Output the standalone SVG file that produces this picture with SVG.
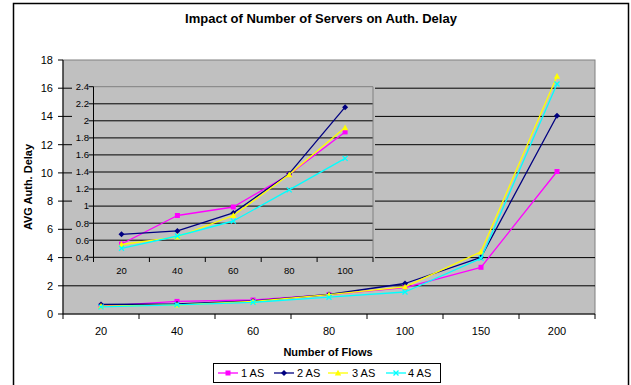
<svg xmlns="http://www.w3.org/2000/svg" width="631" height="385" viewBox="0 0 631 385">
  <style>
    text { font-family: "Liberation Sans", Arial, sans-serif; fill: #000; }
    .title { font-size: 13px; font-weight: bold; }
    .axt { font-size: 11px; font-weight: bold; }
    .lab { font-size: 11px; }
    .ilab { font-size: 9.5px; }
    .grid { stroke: #000; stroke-width: 1; }
    .axis { stroke: #000; stroke-width: 1; fill: none; }
    .s1 { stroke: #FF00FF; }
    .s2 { stroke: #000080; }
    .s3 { stroke: #FFFF00; }
    .s4 { stroke: #00FFFF; }
    .ser { fill: none; stroke-width: 1.3; stroke-linejoin: round; }
  </style>
  <defs>
    <marker id="m-sq" markerUnits="userSpaceOnUse" markerWidth="8" markerHeight="8" refX="4" refY="4" viewBox="0 0 8 8">
      <rect x="1.5" y="1.5" width="5" height="5" fill="#FF00FF"/>
    </marker>
    <marker id="m-dia" markerUnits="userSpaceOnUse" markerWidth="8" markerHeight="8" refX="4" refY="4" viewBox="0 0 8 8">
      <path d="M4 1 L7 4 L4 7 L1 4 Z" fill="#000080"/>
    </marker>
    <marker id="m-tri" markerUnits="userSpaceOnUse" markerWidth="8" markerHeight="8" refX="4" refY="4" viewBox="0 0 8 8">
      <path d="M4 0.8 L7.2 6.6 L0.8 6.6 Z" fill="#FFFF00"/>
    </marker>
    <marker id="m-x" markerUnits="userSpaceOnUse" markerWidth="8" markerHeight="8" refX="4" refY="4" viewBox="0 0 8 8">
      <path d="M1.5 1.5 L6.5 6.5 M6.5 1.5 L1.5 6.5" stroke="#00FFFF" stroke-width="1.3" fill="none"/>
    </marker>
  </defs>

  <!-- chart frame -->
  <g id="frame">
    <rect x="0" y="0" width="631" height="385" fill="#FFFFFF"/>
    <rect x="13.5" y="3.5" width="615" height="400" fill="#FFFFFF" stroke="#000" stroke-width="1.5"/>
    <text class="title" x="321" y="23" text-anchor="middle">Impact of Number of Servers on Auth. Delay</text>
  </g>

  <!-- main plot area -->
  <g id="main-plot">
    <rect x="63" y="60" width="532" height="254" fill="#C0C0C0" stroke="#808080" stroke-width="1"/>
    <g id="main-grid">
      <line class="grid" x1="63" y1="285.8" x2="595" y2="285.8"/>
      <line class="grid" x1="63" y1="257.6" x2="595" y2="257.6"/>
      <line class="grid" x1="63" y1="229.3" x2="595" y2="229.3"/>
      <line class="grid" x1="63" y1="201.1" x2="595" y2="201.1"/>
      <line class="grid" x1="63" y1="172.9" x2="595" y2="172.9"/>
      <line class="grid" x1="63" y1="144.7" x2="595" y2="144.7"/>
      <line class="grid" x1="63" y1="116.4" x2="595" y2="116.4"/>
      <line class="grid" x1="63" y1="88.2" x2="595" y2="88.2"/>
    </g>
    <g id="main-axes">
      <path class="axis" d="M63 60 V314 H595"/>
      <path class="axis" d="M58 314H63M58 285.8H63M58 257.6H63M58 229.3H63M58 201.1H63M58 172.9H63M58 144.7H63M58 116.4H63M58 88.2H63M58 60H63"/>
      <path class="axis" d="M63 314V319M139 314V319M215 314V319M291 314V319M367 314V319M443 314V319M519 314V319M595 314V319"/>
    </g>
    <g id="main-ylabels" class="lab" text-anchor="end">
      <text x="53" y="318">0</text>
      <text x="53" y="289.8">2</text>
      <text x="53" y="261.6">4</text>
      <text x="53" y="233.3">6</text>
      <text x="53" y="205.1">8</text>
      <text x="53" y="176.9">10</text>
      <text x="53" y="148.7">12</text>
      <text x="53" y="120.4">14</text>
      <text x="53" y="92.2">16</text>
      <text x="53" y="64">18</text>
    </g>
    <g id="main-xlabels" class="lab" text-anchor="middle">
      <text x="101" y="335">20</text>
      <text x="177" y="335">40</text>
      <text x="253" y="335">60</text>
      <text x="329" y="335">80</text>
      <text x="405" y="335">100</text>
      <text x="481" y="335">150</text>
      <text x="557" y="335">200</text>
    </g>
    <text class="axt" x="328" y="356" text-anchor="middle">Number of Flows</text>
    <text class="axt" transform="translate(32 187) rotate(-90)" text-anchor="middle">AVG Auth. Delay</text>
  </g>

  <!-- inset chart, zoomed on 20..100 flows -->
  <g id="inset">
    <rect x="72" y="76" width="303" height="206" fill="#C0C0C0"/>
    <g id="inset-grid">
      <line class="grid" x1="93.5" y1="240.2" x2="373" y2="240.2"/>
      <line class="grid" x1="93.5" y1="223.2" x2="373" y2="223.2"/>
      <line class="grid" x1="93.5" y1="206.1" x2="373" y2="206.1"/>
      <line class="grid" x1="93.5" y1="189.0" x2="373" y2="189.0"/>
      <line class="grid" x1="93.5" y1="172.0" x2="373" y2="172.0"/>
      <line class="grid" x1="93.5" y1="154.9" x2="373" y2="154.9"/>
      <line class="grid" x1="93.5" y1="137.9" x2="373" y2="137.9"/>
      <line class="grid" x1="93.5" y1="120.8" x2="373" y2="120.8"/>
      <line class="grid" x1="93.5" y1="103.8" x2="373" y2="103.8"/>
      <path d="M93.5 86.7 H373 V257.3" fill="none" stroke="#808080" stroke-width="1"/>
    </g>
    <g id="inset-axes">
      <path class="axis" d="M93.5 86.7 V257.3 H373"/>
      <path class="axis" d="M88.5 257.3H93.5M88.5 240.2H93.5M88.5 223.2H93.5M88.5 206.1H93.5M88.5 189H93.5M88.5 172H93.5M88.5 154.9H93.5M88.5 137.9H93.5M88.5 120.8H93.5M88.5 103.8H93.5M88.5 86.7H93.5"/>
      <path class="axis" d="M93.5 257.3V262M149.4 257.3V262M205.3 257.3V262M261.2 257.3V262M317.1 257.3V262M373 257.3V262"/>
    </g>
    <g id="inset-ylabels" class="ilab" text-anchor="end">
      <text x="89" y="260.6">0.4</text>
      <text x="89" y="243.5">0.6</text>
      <text x="89" y="226.5">0.8</text>
      <text x="89" y="209.4">1</text>
      <text x="89" y="192.3">1.2</text>
      <text x="89" y="175.3">1.4</text>
      <text x="89" y="158.2">1.6</text>
      <text x="89" y="141.2">1.8</text>
      <text x="89" y="124.1">2</text>
      <text x="89" y="107.1">2.2</text>
      <text x="89" y="90">2.4</text>
    </g>
    <g id="inset-xlabels" class="ilab" text-anchor="middle">
      <text x="121.5" y="274">20</text>
      <text x="177.4" y="274">40</text>
      <text x="233.3" y="274">60</text>
      <text x="289.2" y="274">80</text>
      <text x="345.1" y="274">100</text>
    </g>
    <g id="inset-series">
      <polyline class="ser s1" marker-start="url(#m-sq)" marker-mid="url(#m-sq)" marker-end="url(#m-sq)" points="121.5,244.0 177.4,215.5 233.3,207.0 289.2,174.6 345.1,131.9"/>
      <polyline class="ser s2" marker-start="url(#m-dia)" marker-mid="url(#m-dia)" marker-end="url(#m-dia)" points="121.5,234.3 177.4,230.9 233.3,212.9 289.2,173.7 345.1,107.2"/>
      <polyline class="ser s3" marker-start="url(#m-tri)" marker-mid="url(#m-tri)" marker-end="url(#m-tri)" points="121.5,244.5 177.4,236.8 233.3,215.5 289.2,174.6 345.1,127.6"/>
      <polyline class="ser s4" marker-start="url(#m-x)" marker-mid="url(#m-x)" marker-end="url(#m-x)" points="121.5,248.3 177.4,236.0 233.3,221.0 289.2,189.9 345.1,158.4"/>
    </g>
  </g>

  <!-- main series -->
  <g id="main-series">
    <polyline class="ser s1" marker-start="url(#m-sq)" marker-mid="url(#m-sq)" marker-end="url(#m-sq)" points="101,306.2 177,301.4 253,300.0 329,294.7 405,287.6 481,267.3 557,171.5"/>
    <polyline class="ser s2" marker-start="url(#m-dia)" marker-mid="url(#m-dia)" marker-end="url(#m-dia)" points="101,304.5 177,304.0 253,301.0 329,294.5 405,283.5 481,257.3 557,115.7"/>
    <polyline class="ser s3" marker-start="url(#m-tri)" marker-mid="url(#m-tri)" marker-end="url(#m-tri)" points="101,306.2 177,305.0 253,301.4 329,294.7 405,286.9 481,251.8 557,76.2"/>
    <polyline class="ser s4" marker-start="url(#m-x)" marker-mid="url(#m-x)" marker-end="url(#m-x)" points="101,306.9 177,304.8 253,302.3 329,297.2 405,292.0 481,258.3 557,84.0"/>
  </g>

  <!-- legend -->
  <g id="legend">
    <rect x="213.5" y="363.5" width="227" height="19" fill="#FFFFFF" stroke="#000" stroke-width="1"/>
    <g id="legend-1as">
      <line class="s1" x1="218" y1="373" x2="238" y2="373" stroke-width="1.3"/>
      <rect x="225.5" y="370.5" width="5" height="5" fill="#FF00FF"/>
      <text class="lab" x="241" y="377">1 AS</text>
    </g>
    <g id="legend-2as">
      <line class="s2" x1="274" y1="373" x2="294" y2="373" stroke-width="1.3"/>
      <path d="M284 370 L287 373 L284 376 L281 373 Z" fill="#000080"/>
      <text class="lab" x="297" y="377">2 AS</text>
    </g>
    <g id="legend-3as">
      <line class="s3" x1="328" y1="373" x2="348" y2="373" stroke-width="1.3"/>
      <path d="M338 369.8 L341.2 375.6 L334.8 375.6 Z" fill="#FFFF00"/>
      <text class="lab" x="352" y="377">3 AS</text>
    </g>
    <g id="legend-4as">
      <line class="s4" x1="386" y1="373" x2="406" y2="373" stroke-width="1.3"/>
      <path d="M393.5 370.5 L398.5 375.5 M398.5 370.5 L393.5 375.5" stroke="#00FFFF" stroke-width="1.3"/>
      <text class="lab" x="408" y="377">4 AS</text>
    </g>
  </g>
</svg>
